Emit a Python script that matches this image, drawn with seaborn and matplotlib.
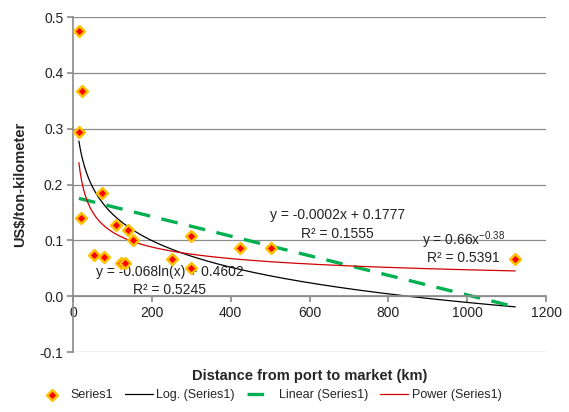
import numpy as np
import pandas as pd
import matplotlib
matplotlib.use("Agg")
import matplotlib.pyplot as plt
import seaborn as sns

# Data
distance_km = [15, 22, 15, 74, 20, 53, 78, 108, 140, 151, 121, 131, 250, 300, 300, 423, 503, 1122]
cost_usd = [0.475, 0.367, 0.294, 0.185, 0.140, 0.073, 0.070, 0.127, 0.118, 0.100,
            0.059, 0.060, 0.066, 0.107, 0.050, 0.086, 0.086, 0.066]

y_ticks = [-0.1, 0.0, 0.1, 0.2, 0.3, 0.4, 0.5]
x_ticks = [0, 200, 400, 600, 800, 1000, 1200]

sns.set_theme(style="white")
plt.rcParams['font.family'] = ['Liberation Sans Narrow', 'Liberation Sans', 'DejaVu Sans']
plt.rcParams['mathtext.fontset'] = 'custom'
plt.rcParams['mathtext.rm'] = 'Liberation Sans'
plt.rcParams['mathtext.default'] = 'regular'

df = pd.DataFrame({"x": distance_km, "y": cost_usd})
x = np.array(distance_km, float)
y = np.array(cost_usd, float)

# Trendlines fitted from the data (as the spreadsheet does)
lin_m, lin_b = np.polyfit(x, y, 1)
log_a, log_b = np.polyfit(np.log(x), y, 1)
pw_b, pw_ln_a = np.polyfit(np.log(x), np.log(y), 1)
pw_a = np.exp(pw_ln_a)

xs = np.linspace(x.min(), x.max(), 400)
trend = pd.DataFrame({
    "x": xs,
    "log": log_a * np.log(xs) + log_b,
    "lin": lin_m * xs + lin_b,
    "pow": pw_a * xs ** pw_b,
})

fig = plt.figure(figsize=(5.69, 4.12), dpi=100)
ax = fig.add_axes([73/569, 60/412, 473/569, 335/412])

sns.lineplot(data=trend, x="x", y="log", ax=ax, color="black", lw=0.9, label="Log. (Series1)")
sns.lineplot(data=trend, x="x", y="lin", ax=ax, color="#00B050", lw=2.4, label="Linear (Series1)")
ax.lines[-1].set_dashes([5, 3.5])
sns.lineplot(data=trend, x="x", y="pow", ax=ax, color="#D00000", lw=0.9, label="Power (Series1)")
sns.scatterplot(data=df, x="x", y="y", ax=ax, marker="D", s=30, color="red",
                edgecolor="#FFC000", linewidth=1.8, label="Series1", zorder=5)

ax.set_xlim(0, 1200)
ax.set_ylim(-0.1, 0.5)
ax.set_xticks(x_ticks)
ax.set_yticks(y_ticks)
ax.set_yticklabels([f"{v:.1f}" for v in y_ticks])
ax.grid(axis="y", color="#8c8c8c", lw=0.9)
ax.grid(axis="x", visible=False)
for s in ["top", "right"]:
    ax.spines[s].set_visible(False)
ax.spines["left"].set_color("#8c8c8c")
ax.spines["bottom"].set_color("#8c8c8c")
ax.spines["bottom"].set_position(("data", 0))
ax.tick_params(axis="both", which="both", length=4, color="#8c8c8c", labelsize=10,
               labelcolor="#222222", direction="out")
ax.tick_params(axis="x", bottom=True, pad=3)
ax.tick_params(axis="y", left=True, pad=3)

ax.set_xlabel("Distance from port to market (km)", fontsize=10.5, fontweight="bold", labelpad=0)
ax.xaxis.set_label_coords(0.5, -0.05)
ax.set_ylabel("US$/ton-kilometer", fontsize=10.5, fontweight="bold", labelpad=9)

tkw = dict(fontsize=10, color="#222222", ha="center", va="center")
ax.text(670, 0.145, "y = -0.0002x + 0.1777", **tkw)
ax.text(670, 0.111, "R² = 0.1555", **tkw)
ax.text(990, 0.100, "y = 0.66x$^{-0.38}$", **tkw)
ax.text(990, 0.068, "R² = 0.5391", **tkw)
ax.text(246, 0.043, "y = -0.068ln(x) + 0.4602", **tkw)
ax.text(246, 0.011, "R² = 0.5245", **tkw)

h, l = ax.get_legend_handles_labels()
order = ["Series1", "Log. (Series1)", "Linear (Series1)", "Power (Series1)"]
hd = dict(zip(l, h))
ax.legend([hd[k] for k in order], order, loc="center",
          ncol=4, frameon=False, fontsize=9, handlelength=2.2, columnspacing=1.0,
          handletextpad=0.3)
ax.get_legend().set_bbox_to_anchor((270/569, 17/412), transform=fig.transFigure)

fig.savefig("out.png", dpi=100)
